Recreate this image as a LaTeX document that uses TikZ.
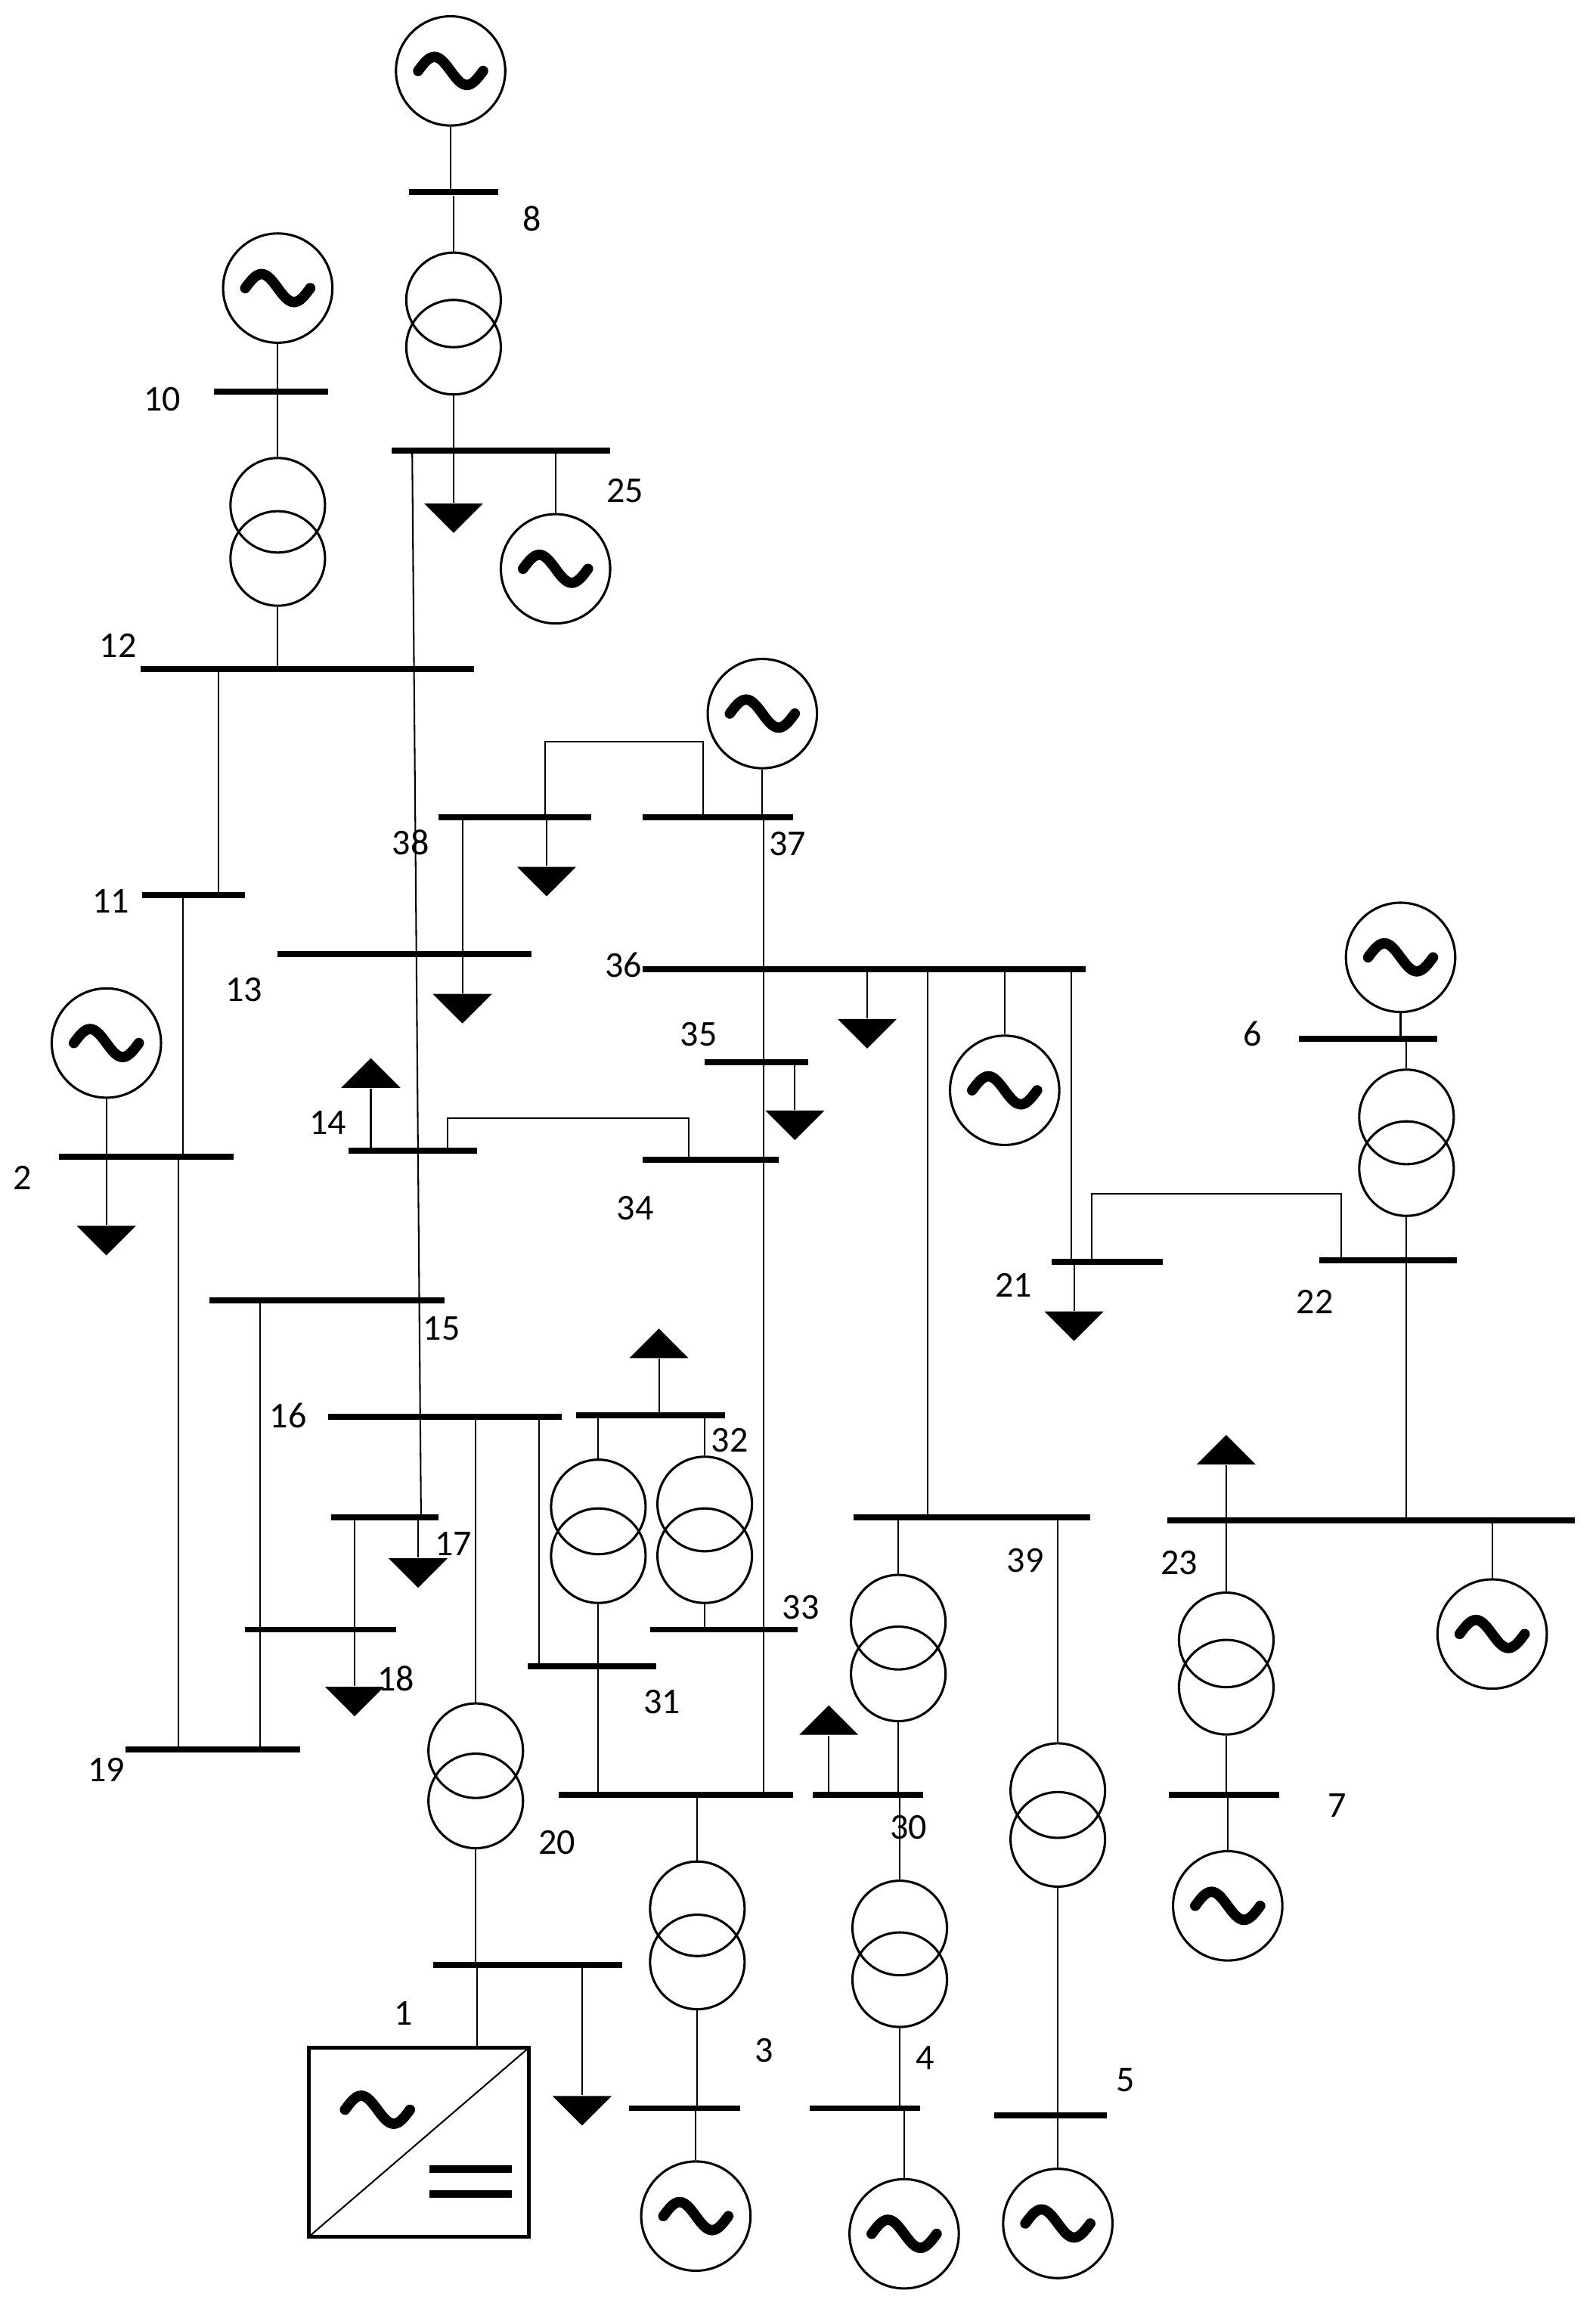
\documentclass[tikz,border=0pt]{standalone}
\usepackage{fontspec}
\setmainfont{Carlito}
\usetikzlibrary{shapes.geometric}

\newcommand\gentilde[2][{(0cm,0cm)}]{%
  \draw[line width=0.14cm, line cap=round] ([shift={#1},shift={(-0.44cm,0cm)}]#2)
    sin ++(0.22cm,0.19cm) cos ++(0.22cm,-0.19cm) sin ++(0.22cm,-0.19cm) cos ++(0.22cm,0.19cm);}

\tikzset{
  bus/.style={fill, inner sep=0, minimum height=0.08cm, minimum width={#1*0.02cm}},
  gen/.style={draw, circle, line width=0.9pt, inner sep=0, minimum size=1.48cm,
    path picture={\gentilde{path picture bounding box.center}}},
  trafo/.style={draw, circle, line width=0.9pt, inner sep=0, minimum size=1.28cm},
  load/.style={fill, isosceles triangle, isosceles triangle apex angle=90,
    inner sep=0, minimum height=0.4cm, shape border rotate=270},
  loadup/.style={load, shape border rotate=90},
  lbl/.style={font=\fontsize{14}{16}\selectfont, inner sep=0},
  every path/.style={line width=0.6pt}
}

\begin{document}
\begin{tikzpicture}[x=0.02cm, y=-0.02cm]
  \useasboundingbox (0,0) rectangle (1080,1569);

  % Buses
  \node[bus=60]  (b8)  at (307,130) {};
  \node[bus=148] (b25) at (339,305) {};
  \node[bus=77]  (b10) at (183.5,265) {};
  \node[bus=226] (b12) at (208,453) {};
  \node[bus=70]  (b11) at (131,606) {};
  \node[bus=118] (b2)  at (99,783) {};
  \node[bus=118] (b19) at (144,1184) {};
  \node[bus=159] (b15) at (221.5,880) {};
  \node[bus=172] (b13) at (274,646) {};
  \node[bus=103] (b38) at (348.5,553) {};
  \node[bus=102] (b37) at (486,553) {};
  \node[bus=300] (b36) at (585,656) {};
  \node[bus=70]  (b35) at (512,719) {};
  \node[bus=92]  (b34) at (481,785) {};
  \node[bus=87]  (b14) at (279.5,779) {};
  \node[bus=75]  (b21) at (749.5,854) {};
  \node[bus=93]  (b22) at (939.5,853) {};
  \node[bus=94]  (b6)  at (926,703) {};
  \node[bus=276] (b23) at (928,1029) {};
  \node[bus=75]  (b7)  at (828.5,1215) {};
  \node[bus=160] (b39) at (658,1027) {};
  \node[bus=76]  (b5)  at (711,1432) {};
  \node[bus=75]  (b30) at (587.5,1215) {};
  \node[bus=75]  (b4)  at (585.5,1427) {};
  \node[bus=159] (b29) at (457.5,1215) {};
  \node[bus=75]  (b3)  at (463.5,1427) {};
  \node[bus=158] (b16) at (301,959) {};
  \node[bus=128] (b20) at (357,1330) {};
  \node[bus=87]  (b31) at (400.5,1128) {};
  \node[bus=101] (b32) at (440.5,958) {};
  \node[bus=100] (b33) at (490,1103) {};
  \node[bus=73]  (b17) at (260.5,1027) {};
  \node[bus=102] (b18) at (217,1103) {};

  % Generators
  \node[gen] (g8)  at (305,48) {};
  \node[gen] (g25) at (376,385) {};
  \node[gen] (g10) at (188,195) {};
  \node[gen] (g2)  at (72,706) {};
  \node[gen] (g37) at (516,483) {};
  \node[gen] (g36) at (680,738) {};
  \node[gen] (g6)  at (948,648) {};
  \node[gen] (g23) at (1010,1106) {};
  \node[gen] (g7)  at (831,1290) {};
  \node[gen] (g5)  at (716,1505) {};
  \node[gen] (g4)  at (612,1512) {};
  \node[gen] (g3)  at (471,1500) {};

  % Transformers
  \node[trafo] (t8a)  at (307,203) {};  \node[trafo] (t8b)  at (307,235) {};
  \node[trafo] (t10a) at (188,342) {};  \node[trafo] (t10b) at (188,378) {};
  \node[trafo] (t6a)  at (952,756) {};  \node[trafo] (t6b)  at (952,791) {};
  \node[trafo] (t7a)  at (830,1110) {}; \node[trafo] (t7b)  at (830,1142) {};
  \node[trafo] (t39a) at (608,1098) {}; \node[trafo] (t39b) at (608,1133) {};
  \node[trafo] (t5a)  at (716,1212) {}; \node[trafo] (t5b)  at (716,1245) {};
  \node[trafo] (t4a)  at (609,1305) {}; \node[trafo] (t4b)  at (609,1340) {};
  \node[trafo] (t3a)  at (472,1292) {}; \node[trafo] (t3b)  at (472,1328) {};
  \node[trafo] (t20a) at (322,1185) {}; \node[trafo] (t20b) at (322,1219) {};
  \node[trafo] (t32a) at (405,1020) {}; \node[trafo] (t32c) at (405,1053) {};
  \node[trafo] (t32b) at (477,1018) {}; \node[trafo] (t32d) at (477,1053) {};

  % Loads
  \node[load] (ld25) at (307,349) {};
  \node[load] (ld2)  at (72,838) {};
  \node[load] (ld38) at (370,595) {};
  \node[load] (ld13) at (313,681) {};
  \node[load] (ld36) at (587,698) {};
  \node[load] (ld35) at (538,760) {};
  \node[load] (ld21) at (727,896) {};
  \node[load] (ld17) at (283,1063) {};
  \node[load] (ld18) at (240,1150) {};
  \node[load] (ld20) at (394,1427) {};
  \node[loadup] (ld14) at (251,728) {};
  \node[loadup] (ld23) at (830,983) {};
  \node[loadup] (ld30) at (561,1166) {};
  \node[loadup] (ld32) at (446,911) {};

  % Converter
  \node[draw, line width=1.5pt, minimum width=2.98cm, minimum height=2.56cm,
    path picture={
      \draw[line width=0.6pt] (path picture bounding box.south west) -- (path picture bounding box.north east);
      \gentilde[{(-0.56cm,0.44cm)}]{path picture bounding box.center}
      \draw[line width=0.1cm] ([shift={(0.14cm,-0.36cm)}]path picture bounding box.center) -- ++(1.12cm,0);
      \draw[line width=0.1cm] ([shift={(0.14cm,-0.70cm)}]path picture bounding box.center) -- ++(1.12cm,0);
    }] (conv1) at (283.5,1450) {};

  % Connections
  \draw (g8) -- (b8 -| g8);
  \draw (b8) -- (t8a);
  \draw (t8b) -- (b25 -| t8b);
  \draw (b25 -| g25) -- (g25);
  \draw (b25 -| ld25) -- (ld25);
  \draw (b25 -| 279,0) -- (b17 -| 285,0);
  \draw (g10) -- (b10 -| g10);
  \draw (b10 -| t10a) -- (t10a);
  \draw (t10b) -- (b12 -| t10b);
  \draw (b12 -| 148,0) -- (b11 -| 148,0);
  \draw (b11 -| 124,0) -- (b2 -| 124,0);
  \draw (g2) -- (b2 -| g2);
  \draw (b2 -| ld2) -- (ld2);
  \draw (b2 -| 121,0) -- (b19 -| 121,0);
  \draw (b15 -| 176,0) -- (b19 -| 176,0);
  \draw (b38 -| ld13) -- (ld13);
  \draw (b38 -| ld38) -- (ld38);
  \draw (b38 -| 369,0) -- ++(0,-51) -| (b37 -| 476,0);
  \draw (g37) -- (b37 -| g37);
  \draw (b37 -| 517,0) -- (b29 -| 517,0);
  \draw (b36 -| ld36) -- (ld36);
  \draw (b36 -| g36) -- (g36);
  \draw (b36 -| 628,0) -- (b39 -| 628,0);
  \draw (b36 -| 725,0) -- (b21 -| 725,0);
  \draw (b35 -| ld35) -- (ld35);
  \draw (b34 -| 466,0) -- ++(0,-28) -| (b14 -| 303,0);
  \draw (b14 -| ld14) -- (ld14);
  \draw (b21 -| ld21) -- (ld21);
  \draw (b21 -| 739,0) -- ++(0,-46) -| (b22 -| 908,0);
  \draw (g6) -- (b6 -| g6);
  \draw (b6 -| t6a) -- (t6a);
  \draw (t6b) -- (b22 -| t6b);
  \draw (b22 -| 952,0) -- (b23 -| 952,0);
  \draw (b23 -| ld23) -- (ld23);
  \draw (b23 -| g23) -- (g23);
  \draw (b23 -| t7a) -- (t7a);
  \draw (t7b) -- (b7 -| t7b);
  \draw (b7 -| g7) -- (g7);
  \draw (b39 -| t39a) -- (t39a);
  \draw (t39b) -- (b30 -| t39b);
  \draw (b39 -| t5a) -- (t5a);
  \draw (t5b) -- (b5 -| t5b);
  \draw (b5 -| g5) -- (g5);
  \draw (b30 -| ld30) -- (ld30);
  \draw (b30 -| t4a) -- (t4a);
  \draw (t4b) -- (b4 -| t4b);
  \draw (b4 -| g4) -- (g4);
  \draw (b29 -| t3a) -- (t3a);
  \draw (t3b) -- (b3 -| t3b);
  \draw (b3 -| g3) -- (g3);
  \draw (b16 -| t20a) -- (t20a);
  \draw (t20b) -- (b20 -| t20b);
  \draw (b20 -| 323,0) -- (conv1.north -| 323,0);
  \draw (b20 -| ld20) -- (ld20);
  \draw (b16 -| 365,0) -- (b31 -| 365,0);
  \draw (b32 -| ld32) -- (ld32);
  \draw (b32 -| t32a) -- (t32a);
  \draw (t32c) -- (b29 -| t32c);
  \draw (b32 -| t32b) -- (t32b);
  \draw (t32d) -- (b33 -| t32d);
  \draw (b17 -| ld17) -- (ld17);
  \draw (b17 -| ld18) -- (ld18);

  % Labels
  \node[lbl] (l8)  at (360,148) {8};
  \node[lbl] (l10) at (110,270) {10};
  \node[lbl] (l25) at (423,332) {25};
  \node[lbl] (l12) at (80,437) {12};
  \node[lbl] (l38) at (278,570) {38};
  \node[lbl] (l37) at (533,571) {37};
  \node[lbl] (l11) at (75,610) {11};
  \node[lbl] (l13) at (165,670) {13};
  \node[lbl] (l36) at (422,653) {36};
  \node[lbl] (l35) at (473,700) {35};
  \node[lbl] (l6)  at (848,700) {6};
  \node[lbl] (l14) at (222,760) {14};
  \node[lbl] (l2)  at (15,797) {2};
  \node[lbl] (l34) at (430,818) {34};
  \node[lbl] (l21) at (686,870) {21};
  \node[lbl] (l22) at (890,881) {22};
  \node[lbl] (l15) at (299,899) {15};
  \node[lbl] (l16) at (195,958) {16};
  \node[lbl] (l32) at (494,975) {32};
  \node[lbl] (l17) at (307,1045) {17};
  \node[lbl] (l39) at (694,1056) {39};
  \node[lbl] (l23) at (798,1058) {23};
  \node[lbl] (l33) at (542,1088) {33};
  \node[lbl] (l18) at (268,1136) {18};
  \node[lbl] (l31) at (448,1152) {31};
  \node[lbl] (l19) at (72,1198) {19};
  \node[lbl] (l7)  at (905,1222) {7};
  \node[lbl] (l30) at (615,1237) {30};
  \node[lbl] (l20) at (377,1247) {20};
  \node[lbl] (l1)  at (273,1363) {1};
  \node[lbl] (l3)  at (517,1388) {3};
  \node[lbl] (l4)  at (626,1393) {4};
  \node[lbl] (l5)  at (762,1408) {5};
\end{tikzpicture}
\end{document}
